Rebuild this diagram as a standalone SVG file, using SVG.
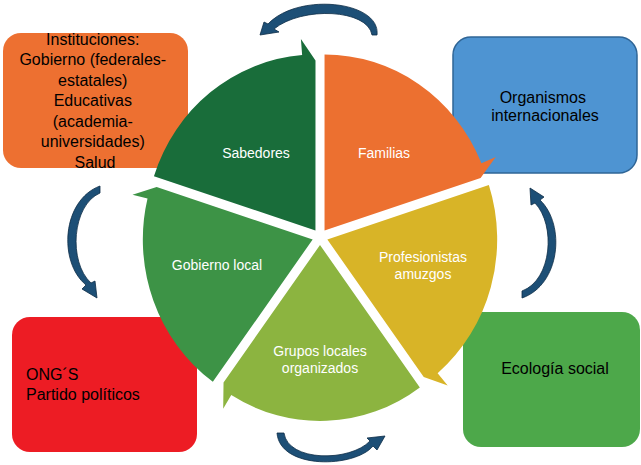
<svg xmlns="http://www.w3.org/2000/svg" width="641" height="465" viewBox="0 0 641 465">
<defs>
<style>
.box-t{font-family:"Liberation Sans",Arial,sans-serif;font-size:16px;fill:#000}
.seg-t{font-family:"Liberation Sans",Arial,sans-serif;font-size:14px;fill:#fff;text-anchor:middle}
.cy{fill:#1D4F76;stroke:#0C2C46;stroke-width:0.8}
</style>
<path id="seg" d="M0,0 L0,-176 A176,176 0 0 1 162.6,-67.35 L177.4,-73.5 L161.7,-52.5 Z"/>
</defs>
<rect width="641" height="465" fill="#fff"/>

<g id="box-instituciones">
<rect x="3" y="33" width="185" height="135" rx="18" fill="#ED7031"/>
<text class="box-t" text-anchor="middle">
<tspan x="95" y="44.5">Instituciones:</tspan>
<tspan x="95" y="65">Gobierno (federales-</tspan>
<tspan x="95" y="85.5">estatales)</tspan>
<tspan x="95" y="106">Educativas</tspan>
<tspan x="95" y="126.5">(academia-</tspan>
<tspan x="95" y="147">universidades)</tspan>
<tspan x="95" y="167.5">Salud</tspan>
</text>
</g>

<g id="box-organismos">
<rect x="453" y="37" width="184" height="136" rx="18" fill="#4E94D2" stroke="#2F6596" stroke-width="1.5"/>
<text class="box-t" text-anchor="middle">
<tspan x="545" y="102.5">Organismos</tspan>
<tspan x="545" y="121">internacionales</tspan>
</text>
</g>

<g id="box-ong">
<rect x="12" y="317" width="185" height="135" rx="18" fill="#ED1C24"/>
<text class="box-t">
<tspan x="26" y="379.5">ONG´S</tspan>
<tspan x="26" y="400">Partido políticos</tspan>
</text>
</g>

<g id="box-ecologia">
<rect x="463" y="312" width="177" height="135" rx="18" fill="#4DA84A"/>
<text class="box-t" x="555" y="374" text-anchor="middle">Ecología social</text>
</g>

<g id="seg-familias">
<use href="#seg" fill="#EC7030" transform="translate(320,237) scale(0.965,1) rotate(0) translate(4.7,-6.47)"/>
<text class="seg-t" x="384" y="158">Familias</text>
</g>
<g id="seg-profesionistas">
<use href="#seg" fill="#D8B427" transform="translate(320,237) scale(0.965,1) rotate(72) translate(4.7,-6.47)"/>
<text class="seg-t"><tspan x="423" y="262">Profesionistas</tspan><tspan x="423" y="279">amuzgos</tspan></text>
</g>
<g id="seg-grupos">
<use href="#seg" fill="#8CB440" transform="translate(320,237) scale(0.965,1) rotate(144) translate(4.7,-6.47)"/>
<text class="seg-t"><tspan x="320" y="356">Grupos locales</tspan><tspan x="320" y="373">organizados</tspan></text>
</g>
<g id="seg-gobierno">
<use href="#seg" fill="#3D9346" transform="translate(320,237) scale(0.965,1) rotate(216) translate(4.7,-6.47)"/>
<text class="seg-t" x="217" y="270">Gobierno local</text>
</g>
<g id="seg-sabedores">
<use href="#seg" fill="#196D3A" transform="translate(320,237) scale(0.965,1) rotate(288) translate(4.7,-6.47)"/>
<text class="seg-t" x="256" y="158">Sabedores</text>
</g>

<g id="connectors">
<path class="cy" d="M377,35 C381,1 298,-8 268,24 L264,22 L260,35 L279,32 L274,29 C302,6 368,9 372,35 Z"/>
<path class="cy" d="M100,186 C62,200 58,262 86,285 L82,289 L97,298 L95,281 L91,283 C68,262 72,205 100,193 Z"/>
<path class="cy" d="M522,298 C560,285 566,225 540,200 L544,197 L530,188 L531,205 L535,203 C556,225 552,280 522,291 Z"/>
<path class="cy" d="M277,433 C280,470 355,468 373,446 L377,450 L385,436 L367,438 L370,441 C350,462 288,462 284,433 Z"/>
</g>
</svg>
